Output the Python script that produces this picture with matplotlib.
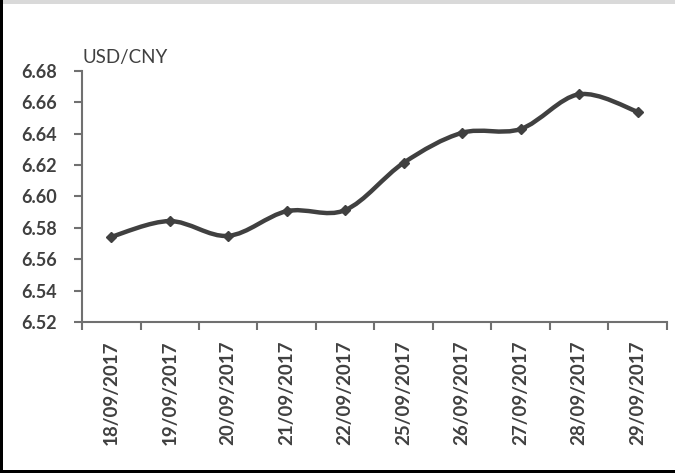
import matplotlib
matplotlib.use('Agg')
import matplotlib.pyplot as plt
from matplotlib.path import Path
from matplotlib.patches import PathPatch, Rectangle
import numpy as np

DATES = ['18/09/2017', '19/09/2017', '20/09/2017', '21/09/2017', '22/09/2017',
         '25/09/2017', '26/09/2017', '27/09/2017', '28/09/2017', '29/09/2017']
RATES = [6.5743, 6.5843, 6.5749, 6.5906, 6.5913, 6.6214, 6.6405, 6.6429, 6.6650, 6.6539]
Y_TICKS = [6.52, 6.54, 6.56, 6.58, 6.60, 6.62, 6.64, 6.66, 6.68]
UNIT = 'USD/CNY'

INK = '#404040'
plt.rcParams['font.family'] = ['Lato', 'DejaVu Sans']

fig = plt.figure(figsize=(6.75, 4.73), dpi=100)
ax = fig.add_axes([0.1215, 0.319, 0.8665, 0.5315])

x = np.arange(len(RATES))
y = np.array(RATES)

# smoothed line like Excel: Catmull-Rom segments as cubic Bezier curves
pts = np.column_stack([x, y])
verts = [pts[0]]
codes = [Path.MOVETO]
for i in range(len(pts) - 1):
    p0 = pts[i - 1] if i > 0 else pts[i]
    p1 = pts[i]
    p2 = pts[i + 1]
    p3 = pts[i + 2] if i + 2 < len(pts) else pts[i + 1]
    verts += [p1 + (p2 - p0) / 6, p2 - (p3 - p1) / 6, p2]
    codes += [Path.CURVE4] * 3
ax.add_patch(PathPatch(Path(verts, codes), fill=False, edgecolor=INK,
                       lw=3.2, capstyle='round', joinstyle='round', zorder=3))
ax.plot(x, y, linestyle='none', marker='D', ms=5, color=INK, zorder=4)

ax.set_xlim(-0.5, len(RATES) - 0.5)
ax.set_ylim(6.52, 6.68)
ax.set_yticks(Y_TICKS)
ax.set_yticklabels(['%.2f' % v for v in Y_TICKS], fontsize=13, fontweight='bold', color=INK)
ax.set_xticks(np.arange(len(RATES) + 1) - 0.5)
ax.set_xticklabels([])
ax.set_xticks(x, minor=True)
ax.set_xticklabels(DATES, minor=True, rotation=90, fontsize=13.5, fontweight='bold', color=INK)
ax.tick_params(axis='x', which='minor', length=0, pad=13)
ax.tick_params(axis='both', which='major', direction='out', length=6, width=1.5, color='#707070')
ax.tick_params(axis='y', pad=12)

for side in ['top', 'right']:
    ax.spines[side].set_visible(False)
for side in ['left', 'bottom']:
    ax.spines[side].set_color('#707070')
    ax.spines[side].set_linewidth(1.5)

fig.text(83 / 675, 1 - 57 / 473, UNIT, fontsize=13.5, color=INK, va='center', ha='left')

# outer frame
fig.patches.append(Rectangle((0, 1 - 4 / 473), 1, 4 / 473, transform=fig.transFigure,
                             facecolor='#d9d9d9', edgecolor='none'))
fig.patches.append(Rectangle((0, 0), 2.5 / 675, 1, transform=fig.transFigure,
                             facecolor='black', edgecolor='none'))
fig.patches.append(Rectangle((0, 0), 1, 3 / 473, transform=fig.transFigure,
                             facecolor='black', edgecolor='none'))

fig.savefig('out.png', dpi=100)
